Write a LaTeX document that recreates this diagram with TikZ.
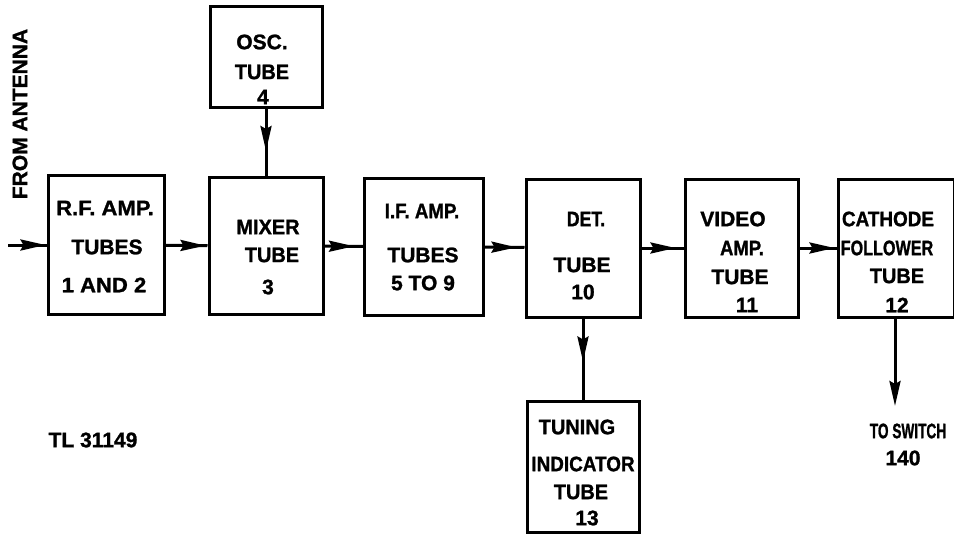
\documentclass[tikz,border=0pt]{standalone}
\usepackage{fontspec}
\setmainfont[FakeBold=1.2]{Liberation Sans}
\usetikzlibrary{arrows.meta,decorations.markings}
\newcommand{\sqz}[2]{\scalebox{#1}[1]{#2}}
\begin{document}
\begin{tikzpicture}[x=1pt,y=-1pt,
  box/.style={draw, line width=3pt, inner sep=0pt},
  txt/.style={font=\fontsize{21}{25}\selectfont\bfseries, inner sep=0pt},
  wire/.style={line width=3pt},
  tipshape/.style={-{Stealth[length=25pt,width=11pt,inset=3pt]}},
  arr/.style={postaction={decorate}, decoration={markings,
    mark=at position #1 with {\arrow{Stealth[length=25pt,width=11pt,inset=3pt]}}}}]
\useasboundingbox (0,0) rectangle (954,535);
\fill[white] (0,0) rectangle (954,535);

% boxes
\node[box, minimum width=116pt, minimum height=139pt] (rf) at (106,245) {};
\node[box, minimum width=112pt, minimum height=101pt] (osc) at (266,57.5) {};
\node[box, minimum width=114pt, minimum height=137pt] (mix) at (266,246) {};
\node[box, minimum width=119pt, minimum height=137pt] (ifa) at (424,246.5) {};
\node[box, minimum width=114pt, minimum height=138pt] (det) at (583,248) {};
\node[box, minimum width=113pt, minimum height=138pt] (vid) at (741.5,248) {};
\node[box, minimum width=116pt, minimum height=138pt] (cat) at (896,248) {};
\node[box, minimum width=112pt, minimum height=131pt] (tun) at (583,466.5) {};

% texts
\node[txt] (rf1) at (105,208) {\sqz{1.05}{R.F. AMP.}};
\node[txt] (rf2) at (107,247) {TUBES};
\node[txt] (rf3) at (104,285) {\sqz{1.05}{1 AND 2}};
\node[txt] (osc1) at (262,42) {OSC.};
\node[txt] (osc2) at (262,72) {\sqz{0.95}{TUBE}};
\node[txt] (osc3) at (263,97) {4};
\node[txt] (mix1) at (268,227) {\sqz{0.95}{MIXER}};
\node[txt] (mix2) at (272,255) {\sqz{0.95}{TUBE}};
\node[txt] (mix3) at (268,287) {3};
\node[txt] (if1) at (422,211) {\sqz{0.89}{I.F. AMP.}};
\node[txt] (if2) at (423,255) {TUBES};
\node[txt] (if3) at (423,283) {5 TO 9};
\node[txt] (det1) at (586,219) {\sqz{0.84}{DET.}};
\node[txt] (det2) at (582,265) {TUBE};
\node[txt] (det3) at (583,292) {10};
\node[txt] (vid1) at (733,219) {VIDEO};
\node[txt] (vid2) at (742,248) {\sqz{0.88}{AMP.}};
\node[txt] (vid3) at (740,277) {TUBE};
\node[txt] (vid4) at (747,305) {11};
\node[txt] (cat1) at (888,219) {\sqz{0.9}{CATHODE}};
\node[txt] (cat2) at (887,248) {\sqz{0.77}{FOLLOWER}};
\node[txt] (cat3) at (897,276) {\sqz{0.95}{TUBE}};
\node[txt] (cat4) at (897,305) {12};
\node[txt] (tun1) at (577,427) {\sqz{0.95}{TUNING}};
\node[txt] (tun2) at (583,464) {\sqz{0.9}{INDICATOR}};
\node[txt] (tun3) at (581,492) {\sqz{0.95}{TUBE}};
\node[txt] (tun4) at (587,518) {13};
\node[txt] (sw1) at (908,431) {\sqz{0.65}{TO SWITCH}};
\node[txt] (sw2) at (903,458) {140};
\node[txt] (tl) at (93,440) {TL 31149};
\node[txt, rotate=90] (ant) at (20,114) {FROM ANTENNA};

% connectors
\coordinate (antin) at (8,245);
\coordinate (swtip) at (895,406);
\draw[wire, arr=-1pt] (antin) -- (rf);
\draw[wire, arr=-2pt] (rf) -- (mix);
\draw[wire, arr=-25pt] (osc) -- (mix);
\draw[wire, arr=-9pt] (mix) -- (ifa);
\draw[wire, arr=-8pt] (ifa) -- (det);
\draw[wire, arr=-8pt] (det) -- (vid);
\draw[wire, arr=-2pt] (vid) -- (cat);
\draw[wire, arr=-38pt] (det) -- (tun);
\draw[wire, tipshape] (cat.south -| swtip) -- (swtip);
\end{tikzpicture}
\end{document}
